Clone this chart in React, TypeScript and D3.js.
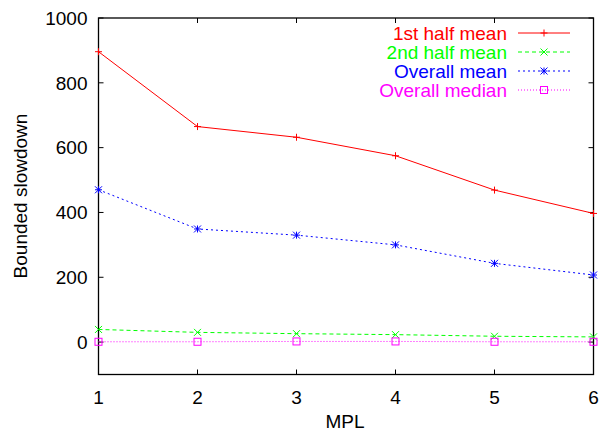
import * as React from 'react'
import * as d3 from 'd3'

const mpl = [1, 2, 3, 4, 5, 6]
const firstHalfMean = [896, 665, 632, 575, 469, 397]
const secondHalfMean = [39, 30, 26, 23, 18, 16]
const overallMean = [470, 349, 330, 300, 243, 207]
const overallMedian = [1, 1, 2, 2, 1, 1]
const yTicks = [0, 200, 400, 600, 800, 1000]

const seriesNames = ['1st half mean', '2nd half mean', 'Overall mean', 'Overall median']
const seriesColors = ['#ff0000', '#00ff00', '#0000ff', '#ff00ff']
const seriesDash = ['none', '4,3', '2,3', '1,2']

const font = 'Liberation Sans, Arial, Helvetica, sans-serif'
const fs = 19

function marker(kind: number, x: number, y: number, color: string, key: string) {
	const s = 3.5
	if (kind === 0) {
		return <path key={key} d={`M${x - s},${y}H${x + s}M${x},${y - s}V${y + s}`} stroke={color} strokeWidth={1} />
	}
	if (kind === 1) {
		return <path key={key} d={`M${x - s},${y - s}L${x + s},${y + s}M${x - s},${y + s}L${x + s},${y - s}`} stroke={color} strokeWidth={1} />
	}
	if (kind === 2) {
		return <path key={key} d={`M${x - s},${y}H${x + s}M${x},${y - s}V${y + s}M${x - s},${y - s}L${x + s},${y + s}M${x - s},${y + s}L${x + s},${y - s}`} stroke={color} strokeWidth={1} />
	}
	return <rect key={key} x={x - s} y={y - s} width={2 * s} height={2 * s} fill="none" stroke={color} strokeWidth={1} />
}

const App: React.FC = () => {
	const width = 609
	const height = 432
	const m = { left: 98.5, right: 593.5, top: 18, bottom: 374.5 }

	const x = d3.scaleLinear().domain([1, 6]).range([m.left, m.right])
	const y = d3.scaleLinear().domain([-100, 1000]).range([m.bottom, m.top])

	const all = [firstHalfMean, secondHalfMean, overallMean, overallMedian]
	const line = d3.line<number>().x((_, i) => x(mpl[i])).y(d => y(d))

	const legendTextX = 507
	const legendLine = [518, 570]
	const legendY = [33, 52, 71, 90]

	return (
		<svg width={width} height={height} style={{ position: 'absolute', left: 0, top: 0 }} fontFamily={font}>
			<rect width={width} height={height} fill="white" />
			{/* ticks */}
			{yTicks.map(t => (
				<g key={'y' + t}>
					<line x1={m.left} x2={m.left + 5} y1={y(t)} y2={y(t)} stroke="black" />
					<line x1={m.right} x2={m.right - 5} y1={y(t)} y2={y(t)} stroke="black" />
					<text x={87.5} y={y(t)} dy="0.36em" textAnchor="end" fontSize={fs}>{t}</text>
				</g>
			))}
			{mpl.map(t => (
				<g key={'x' + t}>
					<line x1={x(t)} x2={x(t)} y1={m.bottom} y2={m.bottom - 5} stroke="black" />
					<line x1={x(t)} x2={x(t)} y1={m.top} y2={m.top + 5} stroke="black" />
					<text x={x(t)} y={397} dy="0.36em" textAnchor="middle" fontSize={fs}>{t}</text>
				</g>
			))}
			<rect x={m.left} y={m.top} width={m.right - m.left} height={m.bottom - m.top} fill="none" stroke="black" strokeWidth={1.3} />

			{all.map((vals, k) => (
				<g key={'s' + k}>
					<path d={line(vals)!} fill="none" stroke={seriesColors[k]} strokeWidth={1} strokeDasharray={seriesDash[k]} />
					{vals.map((v, i) => marker(k, x(mpl[i]), y(v), seriesColors[k], `m${k}-${i}`))}
				</g>
			))}

			{seriesNames.map((n, k) => (
				<g key={'l' + k}>
					<text x={legendTextX} y={legendY[k]} dy="0.36em" textAnchor="end" fontSize={fs} fill={seriesColors[k]}>{n}</text>
					<line x1={legendLine[0]} x2={legendLine[1]} y1={legendY[k]} y2={legendY[k]} stroke={seriesColors[k]} strokeDasharray={seriesDash[k]} />
					{marker(k, (legendLine[0] + legendLine[1]) / 2, legendY[k], seriesColors[k], 'lm' + k)}
				</g>
			))}

			<text x={345} y={428} textAnchor="middle" fontSize={fs}>MPL</text>
			<text transform={`translate(27,196) rotate(-90)`} textAnchor="middle" fontSize={fs}>Bounded slowdown</text>
		</svg>
	)
}

export default App
